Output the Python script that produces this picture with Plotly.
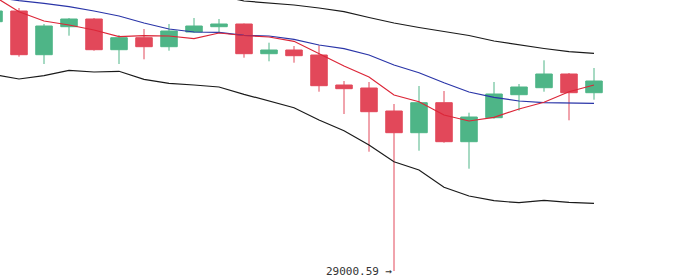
import plotly.graph_objects as go

idx = list(range(25))
open_ = [33987, 34201, 33327, 33887, 34041, 33427, 33667, 33487, 33781, 33887, 33941, 33347, 33421,
         33321, 32721, 32661, 32201, 31767, 32367, 31587, 32067, 32527, 32667, 32941, 32567]
high = [34241, 34261, 33941, 34061, 34061, 33721, 33841, 33941, 34061, 34041, 33951, 33567, 33501,
        33515, 32801, 32781, 32341, 32701, 32601, 32167, 32781, 32741, 33215, 32961, 33061]
low = [33921, 33287, 33141, 33707, 33407, 33141, 33235, 33407, 33771, 33781, 33267, 33195, 33167,
       32587, 32141, 31387, 29000.59, 31407, 31567, 31047, 32047, 32207, 32587, 32015, 32427]
close = [34201, 33327, 33901, 34041, 33427, 33667, 33487, 33801, 33901, 33941, 33347, 33421, 33307,
         32707, 32647, 32187, 31767, 32367, 31587, 32081, 32541, 32681, 32941, 32567, 32801]

ma_red = [34495, 34187, 34001, 33921, 33821, 33687, 33707, 33701, 33647, 33761, 33711, 33681, 33595,
          33341, 33101, 32881, 32521, 32387, 32121, 32001, 32075, 32241, 32375, 32587, 32721]
ma_blue = [34481, 34407, 34355, 34287, 34201, 34101, 33961, 33841, 33781, 33775, 33715, 33701, 33635,
           33521, 33447, 33321, 33121, 32967, 32767, 32581, 32475, 32401, 32367, 32361, 32355]
band_upper = [35101, 35041, 34981, 34901, 34841, 34781, 34721, 34661, 34581, 34511, 34401, 34367, 34321,
              34261, 34187, 34071, 33961, 33871, 33787, 33711, 33601, 33521, 33451, 33387, 33355]
band_lower = [32931, 32841, 32907, 33015, 32981, 32995, 32835, 32755, 32721, 32681, 32535, 32407, 32267,
              32021, 31807, 31521, 31187, 31021, 30675, 30501, 30407, 30367, 30415, 30375, 30355]

min_label = "29000.59 →"
min_idx = low.index(min(low))

UP = "#4eb587"
DOWN = "#e2485a"

fig = go.Figure()
fig.add_trace(go.Candlestick(
    x=idx, open=open_, high=high, low=low, close=close,
    increasing=dict(line=dict(color=UP, width=1), fillcolor=UP),
    decreasing=dict(line=dict(color=DOWN, width=1), fillcolor=DOWN),
    whiskerwidth=0, showlegend=False, hoverinfo="skip",
))
for ys, col, w in [(band_upper, "#1a1a1a", 1.2), (band_lower, "#1a1a1a", 1.2),
                   (ma_blue, "#2a35a8", 1.2), (ma_red, "#dc2638", 1.2)]:
    fig.add_trace(go.Scatter(x=idx, y=ys, mode="lines", line=dict(color=col, width=w),
                             showlegend=False, hoverinfo="skip"))

fig.add_annotation(x=min_idx, y=min(low), text=min_label, showarrow=False,
                   xanchor="right", yanchor="middle", xshift=1,
                   font=dict(family="DejaVu Sans Mono", size=11, color="#333333"))

fig.update_layout(
    width=700, height=279, margin=dict(l=0, r=0, t=0, b=0),
    paper_bgcolor="white", plot_bgcolor="white", boxgap=0.34, boxgroupgap=0,
    xaxis=dict(range=[0.24, 28.24], visible=False, rangeslider=dict(visible=False)),
    yaxis=dict(range=[28841, 34421], visible=False),
)
fig.write_html("out.html")
